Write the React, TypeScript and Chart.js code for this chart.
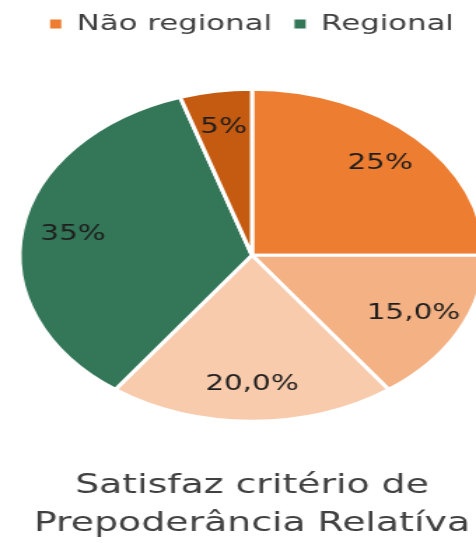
import React, { useEffect, useRef } from "react";
import { Chart, registerables } from "chart.js";

Chart.register(...registerables);

const sliceLabels = ["Não regional A", "Não regional B", "Não regional C", "Regional", "Não regional D"];
const sliceValues = [25, 15, 20, 35, 5];
const sliceTexts = ["25%", "15,0%", "20,0%", "35%", "5%"];
const sliceColors = ["#ED7D31", "#F4B183", "#F8CBAD", "#337658", "#C55A11"];
const legendLabels = ["Não regional", "Regional"];
const legendColors = ["#ED7D31", "#337658"];
const titleLines = ["Satisfaz critério de", "Prepoderância Relatíva"];

const FONT = "'DejaVu Sans', Verdana, sans-serif";
const STRETCH = 1.4;

const labelPlugin = {
  id: "sliceLabels",
  afterDatasetsDraw(chart: any) {
    const ctx = chart.ctx;
    const meta = chart.getDatasetMeta(0);
    ctx.save();
    ctx.font = `21px ${FONT}`;
    ctx.fillStyle = "#1e1e1e";
    ctx.textAlign = "center";
    ctx.textBaseline = "middle";
    meta.data.forEach((arc: any, i: number) => {
      const p = arc.getProps(["x", "y", "startAngle", "endAngle", "outerRadius"], true);
      const mid = (p.startAngle + p.endAngle) / 2;
      const r = p.outerRadius * 0.78;
      ctx.fillText(sliceTexts[i], p.x + Math.cos(mid) * r, p.y + Math.sin(mid) * r);
    });
    ctx.restore();
  },
};

export default function App() {
  const ref = useRef<HTMLCanvasElement | null>(null);
  useEffect(() => {
    if (!ref.current) return;
    const chart = new Chart(ref.current, {
      type: "pie",
      data: {
        labels: sliceLabels,
        datasets: [
          {
            data: sliceValues,
            backgroundColor: sliceColors,
            borderColor: "#ffffff",
            borderWidth: 3,
          },
        ],
      },
      options: {
        animation: false,
        responsive: true,
        maintainAspectRatio: false,
        radius: 166,
        layout: { padding: { top: -3, bottom: 0, left: 0, right: 0 } },
        plugins: {
          tooltip: { enabled: false },
          legend: {
            position: "top",
            labels: {
              font: { family: FONT, size: 22 },
              color: "#404040",
              boxWidth: 8,
              boxHeight: 9,
              padding: 16,
              generateLabels: () =>
                legendLabels.map((t, i) => ({
                  text: t,
                  fillStyle: legendColors[i],
                  strokeStyle: legendColors[i],
                  lineWidth: 0,
                  hidden: false,
                  index: i,
                  fontColor: "#404040",
                })),
            },
          },
          title: {
            display: true,
            position: "bottom",
            text: titleLines,
            color: "#404040",
            font: { family: FONT, size: 27, weight: "normal", lineHeight: 1.4 },
            padding: { top: 2, bottom: 0 },
          },
        },
      } as any,
      plugins: [labelPlugin],
    });
    return () => chart.destroy();
  }, []);

  return (
    <div
      style={{
        position: "absolute",
        left: 0,
        top: 0,
        width: 476,
        height: 543,
        overflow: "hidden",
        background: "#ffffff",
      }}
    >
      <div
        style={{
          width: 360,
          height: 543,
          transform: `scaleX(${STRETCH})`,
          transformOrigin: "0 0",
        }}
      >
        <canvas ref={ref} />
      </div>
    </div>
  );
}
